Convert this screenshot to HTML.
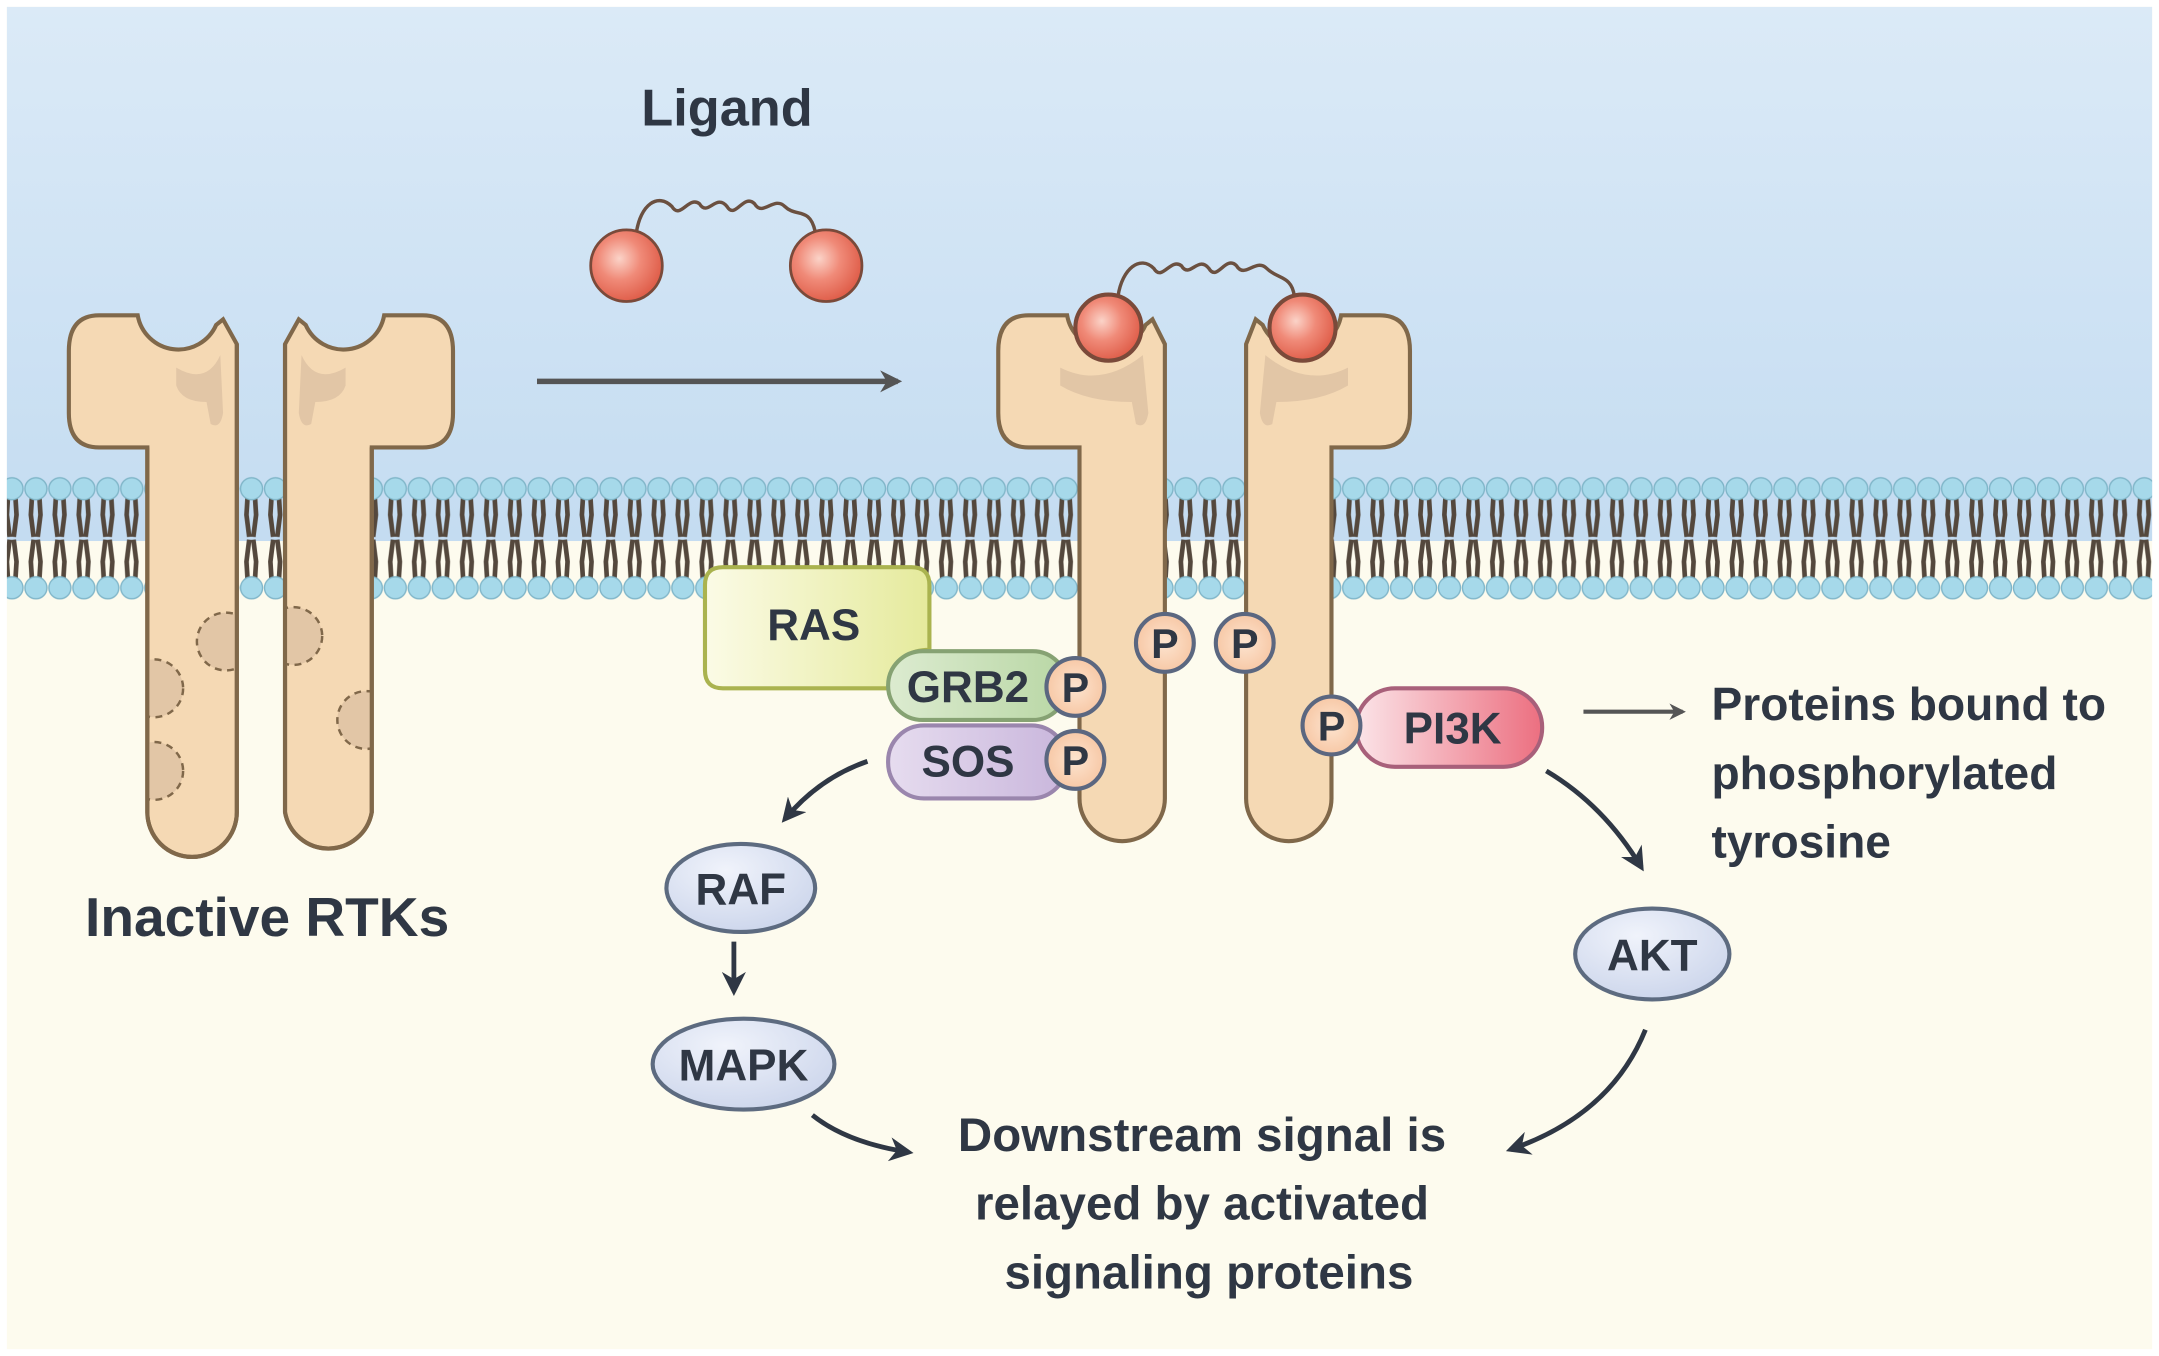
<!DOCTYPE html>
<html><head><meta charset="utf-8"><style>
html,body{margin:0;padding:0;background:#fff}
svg{display:block}
text{font-family:"Liberation Sans",sans-serif;font-weight:bold;fill:#2f3744}
</style></head><body>
<svg width="2159" height="1356" viewBox="0 0 1568 985" preserveAspectRatio="none" xmlns="http://www.w3.org/2000/svg">
<defs>
<linearGradient id="sky" x1="0" y1="0" x2="0" y2="1"><stop offset="0" stop-color="#dbeaf7"/><stop offset="1" stop-color="#c4dcf1"/></linearGradient>
<linearGradient id="ras" x1="0" y1="0" x2="1" y2="0"><stop offset="0" stop-color="#fbfbe6"/><stop offset="1" stop-color="#e5ea9c"/></linearGradient>
<linearGradient id="grb" x1="0" y1="0" x2="1" y2="0"><stop offset="0" stop-color="#dcebd0"/><stop offset="1" stop-color="#b9d7a5"/></linearGradient>
<linearGradient id="sos" x1="0" y1="0" x2="1" y2="0"><stop offset="0" stop-color="#e6dcef"/><stop offset="1" stop-color="#c9b6dc"/></linearGradient>
<linearGradient id="pi3k" x1="0" y1="0" x2="1" y2="0"><stop offset="0" stop-color="#fbe4e8"/><stop offset="1" stop-color="#ec6f80"/></linearGradient>
<radialGradient id="ball" cx="0.4" cy="0.4" r="0.6"><stop offset="0" stop-color="#fbd3c8"/><stop offset="0.5" stop-color="#f08a78"/><stop offset="1" stop-color="#e0604c"/></radialGradient>
<radialGradient id="kin" cx="0.4" cy="0.3" r="0.8"><stop offset="0" stop-color="#f0f3fb"/><stop offset="1" stop-color="#c9d3ea"/></radialGradient>
<radialGradient id="pc" cx="0.5" cy="0.5" r="0.5"><stop offset="0" stop-color="#fde4cf"/><stop offset="1" stop-color="#f7c8a6"/></radialGradient>
<pattern id="lip" x="0" y="346" width="17.4" height="90" patternUnits="userSpaceOnUse">
<path d="M6 12 L5 28 L7 44 M11 12 L12 28 L10 44 M6 78 L5 62 L7 46 M11 78 L12 62 L10 46" stroke="#54483d" stroke-width="3.4" fill="none"/>
<circle cx="8.7" cy="9" r="8" fill="#a6d9ea" stroke="#7fb5c8" stroke-width="1"/>
<circle cx="8.7" cy="81" r="8" fill="#a6d9ea" stroke="#7fb5c8" stroke-width="1"/>
</pattern>
<clipPath id="s1"><rect x="107" y="330" width="65" height="300"/></clipPath>
<clipPath id="s2"><rect x="207" y="330" width="63" height="300"/></clipPath>
<marker id="ah" viewBox="0 0 10 10" refX="8" refY="5" markerWidth="5" markerHeight="5" orient="auto"><path d="M0 0 L10 5 L0 10 L3 5 Z" fill="#2f3744"/></marker>
<marker id="ah2" viewBox="0 0 10 10" refX="8" refY="5" markerWidth="4" markerHeight="4" orient="auto"><path d="M0 0 L10 5 L0 10 L3 5 Z" fill="#555"/></marker>
</defs>
<rect width="1568" height="985" fill="#fff"/>
<rect x="5" y="5" width="1558" height="975" fill="#fdfbee"/>
<rect x="5" y="5" width="1558" height="388" fill="url(#sky)"/>
<rect x="5" y="346" width="1558" height="90" fill="url(#lip)"/>

<!-- inactive receptors -->
<g stroke="#80684a" stroke-width="3" fill="#f5d9b4">
<path d="M72 229 L100 229 A30 30 0 0 0 157 236 L162 232 L172 250 L172 590 A32 32 0 0 1 107 590 L107 325 L72 325 Q50 325 50 300 L50 255 Q50 229 72 229 Z"/>
<path d="M307 229 L279 229 A30 30 0 0 1 222 236 L217 232 L207 250 L207 590 A32 32 0 0 0 270 590 L270 325 L307 325 Q329 325 329 300 L329 255 Q329 229 307 229 Z"/>
</g>
<path d="M128 267 Q150 280 160 258 L162 300 Q160 312 153 308 L150 292 Q132 292 128 280Z" fill="#e2c6a6"/>
<path d="M251 267 Q229 280 219 258 L217 300 Q219 312 226 308 L229 292 Q247 292 251 280Z" fill="#e2c6a6"/>
<g fill="#e2c6a6" stroke="#80684a" stroke-width="1.8" stroke-dasharray="5 4">
<g clip-path="url(#s1)"><circle cx="164" cy="466" r="21"/><circle cx="112" cy="500" r="21"/><circle cx="112" cy="560" r="21"/></g>
<g clip-path="url(#s2)"><circle cx="213" cy="462" r="21"/><circle cx="266" cy="523" r="21"/></g>
</g>
<g fill="none" stroke="#80684a" stroke-width="3">
<path d="M172 250 L172 590 A32 32 0 0 1 107 590 L107 325"/>
<path d="M207 250 L207 590 A32 32 0 0 0 270 590 L270 325"/>
</g>

<!-- active receptors -->
<g stroke="#80684a" stroke-width="3" fill="#f5d9b4">
<path d="M747 229 L775 229 A30 30 0 0 0 832 236 L837 232 L846 250 L846 580 A31 31 0 0 1 784 580 L784 325 L747 325 Q725 325 725 300 L725 255 Q725 229 747 229 Z"/>
<path d="M1002 229 L974 229 A30 30 0 0 1 917 236 L912 232 L905 250 L905 580 A31 31 0 0 0 967 580 L967 325 L1002 325 Q1024 325 1024 300 L1024 255 Q1024 229 1002 229 Z"/>
</g>
<path d="M770 267 Q800 282 830 258 L834 300 Q832 312 825 308 L822 292 Q790 292 770 280Z" fill="#e2c6a6"/>
<path d="M979 267 Q949 282 919 258 L915 300 Q917 312 924 308 L927 292 Q959 292 979 280Z" fill="#e2c6a6"/>

<!-- ligands -->
<path d="M462 170 C465 148,478 140,488 150 C494 160,500 142,508 148 C514 158,520 140,528 150 C534 160,540 140,548 148 C554 158,562 142,570 150 C578 158,588 150,592 168" fill="none" stroke="#6b5040" stroke-width="2.5"/>
<circle cx="455" cy="193" r="26" fill="url(#ball)" stroke="#7a4a3a" stroke-width="2"/>
<circle cx="600" cy="193" r="26" fill="url(#ball)" stroke="#7a4a3a" stroke-width="2"/>
<path d="M812 215 C815 195,828 185,838 195 C844 205,850 187,858 193 C864 203,870 185,878 195 C884 205,890 185,898 193 C904 203,912 187,920 195 C928 203,938 200,940 215" fill="none" stroke="#6b5040" stroke-width="2.5"/>
<circle cx="805" cy="238" r="24" fill="url(#ball)" stroke="#7a4a3a" stroke-width="3"/>
<circle cx="946" cy="238" r="24" fill="url(#ball)" stroke="#7a4a3a" stroke-width="3"/>

<line x1="390" y1="277" x2="652" y2="277" stroke="#555" stroke-width="4" marker-end="url(#ah2)"/>

<!-- RAS etc -->
<path d="M525 412 L662 412 Q675 412 675 425 L675 472 Q650 472 645 500 L525 500 Q512 500 512 487 L512 425 Q512 412 525 412Z" fill="url(#ras)" stroke="#aab34f" stroke-width="3"/>
<text x="591" y="465" font-size="32" text-anchor="middle">RAS</text>
<rect x="645" y="473" width="130" height="50" rx="25" fill="url(#grb)" stroke="#86a273" stroke-width="3"/>
<text x="703" y="510" font-size="32" text-anchor="middle">GRB2</text>
<rect x="645" y="527" width="130" height="53" rx="26" fill="url(#sos)" stroke="#9a86ad" stroke-width="3"/>
<text x="703" y="564" font-size="32" text-anchor="middle">SOS</text>
<rect x="985" y="500" width="135" height="57" rx="28" fill="url(#pi3k)" stroke="#a8607a" stroke-width="3"/>
<text x="1055" y="540" font-size="32" text-anchor="middle">PI3K</text>
<g fill="url(#pc)" stroke="#5b6780" stroke-width="3">
<circle cx="781" cy="499" r="21"/><circle cx="781" cy="552" r="21"/>
<circle cx="846" cy="467" r="21"/><circle cx="904" cy="467" r="21"/>
<circle cx="967" cy="527" r="21"/>
</g>
<g font-size="30" text-anchor="middle">
<text x="781" y="510">P</text><text x="781" y="563">P</text>
<text x="846" y="478">P</text><text x="904" y="478">P</text><text x="967" y="538">P</text>
</g>

<!-- kinases -->
<g fill="url(#kin)" stroke="#5d6b80" stroke-width="3">
<ellipse cx="538" cy="645" rx="54" ry="32"/>
<ellipse cx="540" cy="773" rx="66" ry="33"/>
<ellipse cx="1200" cy="693" rx="56" ry="33"/>
</g>
<g font-size="32" text-anchor="middle">
<text x="538" y="657">RAF</text><text x="540" y="785">MAPK</text><text x="1200" y="705">AKT</text>
</g>

<!-- arrows -->
<g fill="none" stroke="#2f3744" stroke-width="3.5" marker-end="url(#ah)">
<path d="M630 553 Q595 565 570 595"/>
<path d="M533 684 L533 720"/>
<path d="M590 810 Q615 830 660 837"/>
<path d="M1123 560 Q1165 585 1192 630"/>
<path d="M1195 748 Q1170 810 1097 835"/>
</g>
<line x1="1150" y1="517" x2="1222" y2="517" stroke="#555" stroke-width="3" marker-end="url(#ah2)"/>

<text x="528" y="91" font-size="38" text-anchor="middle">Ligand</text>
<text x="194" y="680" font-size="40" text-anchor="middle">Inactive RTKs</text>
<g font-size="33.5">
<text x="1243" y="523">Proteins bound to</text>
<text x="1243" y="573">phosphorylated</text>
<text x="1243" y="623">tyrosine</text>
</g>
<g font-size="34.5" text-anchor="middle">
<text x="873" y="836">Downstream signal is</text>
<text x="873" y="886">relayed by activated</text>
<text x="878" y="936">signaling proteins</text>
</g>
</svg>
</body></html>
